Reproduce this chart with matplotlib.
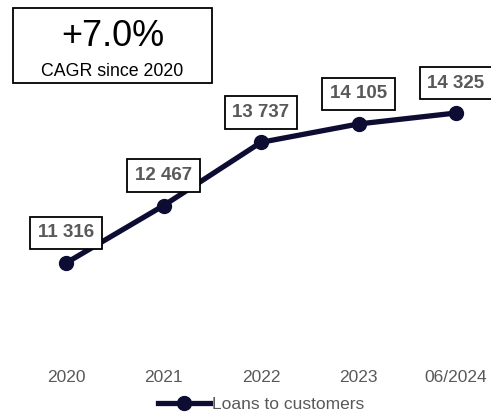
import matplotlib.pyplot as plt
from matplotlib.patches import Rectangle

# data
years = ['2020', '2021', '2022', '2023', '06/2024']
loans = [11316, 12467, 13737, 14105, 14325]
value_labels = ['11 316', '12 467', '13 737', '14 105', '14 325']
cagr_text = '+7.0%'
cagr_sub = 'CAGR since 2020'

navy = '#0d0c33'
grey = '#595959'

plt.rcParams['font.family'] = ['Liberation Sans', 'DejaVu Sans']

fig = plt.figure(figsize=(4.91, 4.15), dpi=100)
ax = fig.add_axes([0, 55 / 415, 1, 360 / 415])

x = list(range(len(years)))
ax.plot(x, loans, color=navy, lw=3.8, marker='o', ms=10, label='Loans to customers')

for xi, yi, lab in zip(x, loans, value_labels):
    ax.annotate(lab, (xi, yi), xytext=(0, 30), textcoords='offset pixels',
                ha='center', va='center', fontsize=13.5, fontweight='bold', color=grey,
                bbox=dict(boxstyle='square,pad=0.42', fc='white', ec='black', lw=1.3))

ax.set_xlim(-0.677, 4.359)
ax.set_ylim(9370, 16592)
ax.set_xticks(x)
ax.set_xticklabels(years, fontsize=12.5, color=grey)
ax.tick_params(axis='x', length=0, pad=7)
ax.set_yticks([])
for s in ax.spines.values():
    s.set_visible(False)

# CAGR box
fig.patches.append(Rectangle((13 / 491, 1 - 83 / 415), 199 / 491, 75 / 415,
                             transform=fig.transFigure, fill=False, ec='black', lw=1.3))
fig.text(113 / 491, 1 - 36 / 415, cagr_text, ha='center', va='center', fontsize=26, color='black')
fig.text(112 / 491, 1 - 72 / 415, cagr_sub, ha='center', va='center', fontsize=12.8, color='black')

ax.legend(loc='center', bbox_to_anchor=(0.532, 0.026), bbox_transform=fig.transFigure,
          frameon=False, fontsize=12.5, labelcolor=grey, handlelength=3.0, handletextpad=0.15)

fig.savefig('out.png', dpi=100)
